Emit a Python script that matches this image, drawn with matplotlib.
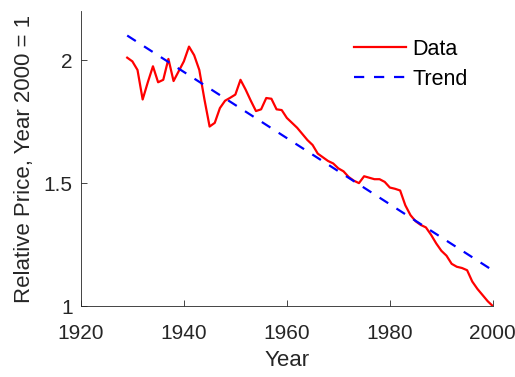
import matplotlib
matplotlib.use('Agg')
import matplotlib.pyplot as plt
from matplotlib.ticker import FormatStrFormatter
import numpy as np

plt.rcParams['font.family'] = ['Liberation Sans', 'DejaVu Sans']

# annual relative price series, normalised so that year 2000 = 1
years = np.arange(1929, 2001)
price = [2.01, 1.995, 1.96, 1.84, 1.91, 1.975, 1.91, 1.92, 2.005, 1.915,
         1.955, 1.995, 2.055, 2.02, 1.96, 1.84, 1.73, 1.745, 1.805, 1.835,
         1.847, 1.86, 1.92, 1.88, 1.835, 1.793, 1.80, 1.846, 1.843, 1.80,
         1.797, 1.765, 1.745, 1.725, 1.70, 1.675, 1.655, 1.62, 1.605, 1.59,
         1.58, 1.56, 1.548, 1.525, 1.51, 1.50, 1.528, 1.522, 1.516, 1.516,
         1.505, 1.482, 1.477, 1.47, 1.41, 1.37, 1.345, 1.33, 1.32, 1.29,
         1.255, 1.225, 1.205, 1.172, 1.16, 1.155, 1.146, 1.10, 1.07, 1.045,
         1.02, 1.0]
# linear trend endpoints
trend_years = [1929, 2000]
trend_vals = [2.10, 1.145]

fig = plt.figure(figsize=(5.15, 3.77), dpi=100)
ax = fig.add_axes([0.157, 0.188, 0.800, 0.783])
ax.plot(years, price, color='red', lw=1.6, label='Data')
ax.plot(trend_years, trend_vals, color='blue', lw=1.6, ls=(0, (4.6, 4.4)), label='Trend')

ax.set_xlim(1920, 2000)
ax.set_ylim(1, 2.2)
ax.set_xticks([1920, 1940, 1960, 1980, 2000])
ax.set_yticks([1, 1.5, 2])
ax.yaxis.set_major_formatter(FormatStrFormatter('%g'))
for s in ['top', 'right']:
    ax.spines[s].set_visible(False)
for s in ['left', 'bottom']:
    ax.spines[s].set_color('#262626')
    ax.spines[s].set_linewidth(0.6)
ax.tick_params(direction='in', length=4, width=0.6, colors='#262626',
               labelsize=15, pad=6)
ax.tick_params(axis='x', pad=13)
ax.set_xlabel('Year', fontsize=16, color='#262626', labelpad=5)
ax.set_ylabel('Relative Price, Year 2000 = 1', fontsize=16, color='#262626', labelpad=6)

ax.legend(loc='upper left', frameon=False, fontsize=15.5, handlelength=2.4,
          bbox_to_anchor=(0.663, 0.905), borderaxespad=0, borderpad=0,
          labelspacing=0.4, handletextpad=0.3)

plt.savefig('out.png', dpi=100)
plt.close()
